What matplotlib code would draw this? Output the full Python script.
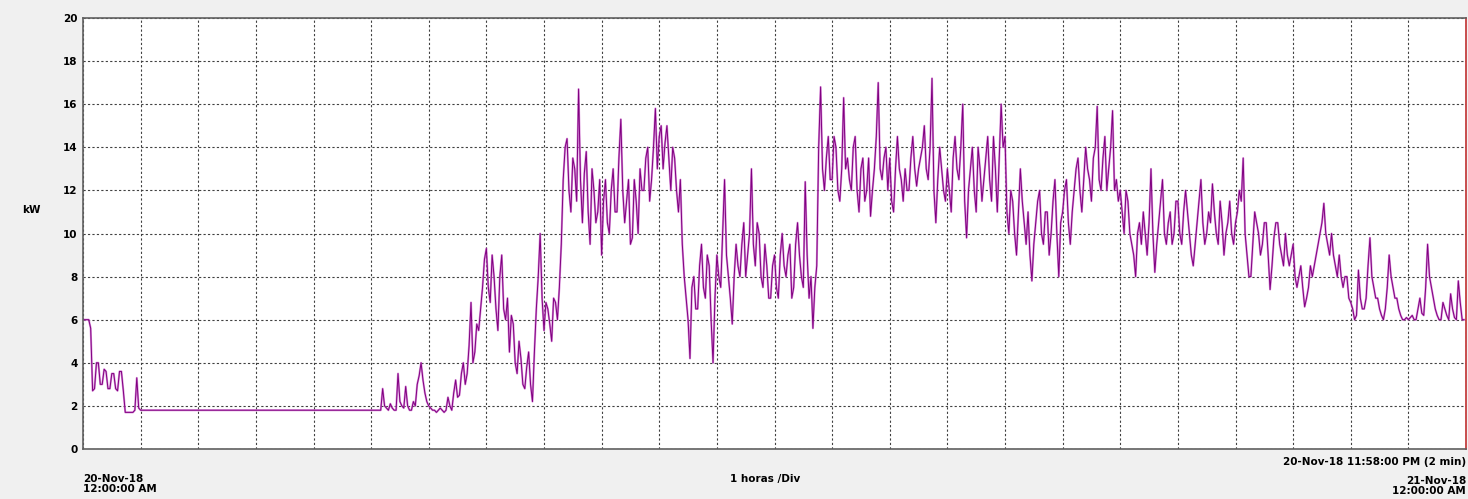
import numpy as np
import matplotlib
matplotlib.use('Agg')
import matplotlib.pyplot as plt

# kW readings every 2 minutes, one row per hour (20-Nov-18 00:00 -> 23:58)
h00 = [6.0, 6.0, 6.0, 6.0, 5.6, 2.7, 2.8, 4.0, 4.0, 3.0,
       3.0, 3.7, 3.6, 2.8, 2.8, 3.5, 3.5, 2.8, 2.7, 3.6,
       3.6, 2.7, 1.7, 1.7, 1.7, 1.7, 1.7, 1.8, 3.3, 1.9]
h01 = [1.8] * 30
h02 = [1.8] * 30
h03 = [1.8] * 30
h04 = [1.8] * 30
h05 = [1.8, 1.8, 1.8, 1.8, 1.8, 1.8, 2.8, 2.0, 1.9, 1.8,
       2.1, 1.9, 1.8, 1.8, 3.5, 2.2, 2.0, 1.9, 2.9, 2.0,
       1.8, 1.8, 2.2, 2.0, 3.0, 3.4, 4.0, 3.2, 2.6, 2.2]
h06 = [2.0, 1.9, 1.8, 1.8, 1.7, 1.8, 1.9, 1.8, 1.7, 1.8,
       2.4, 2.0, 1.8, 2.6, 3.2, 2.4, 2.5, 3.5, 4.0, 3.0,
       3.5, 4.8, 6.8, 4.0, 4.5, 5.8, 5.5, 6.5, 7.5, 8.8]
h07 = [9.3, 7.5, 6.8, 9.0, 8.0, 6.5, 5.5, 8.0, 9.0, 6.5,
       6.0, 7.0, 4.5, 6.2, 5.8, 4.0, 3.5, 5.0, 4.2, 3.0,
       2.8, 3.8, 4.5, 3.0, 2.2, 4.5, 6.5, 8.0, 10.0, 7.0]
h08 = [5.5, 6.8, 6.5, 5.8, 5.0, 7.0, 6.8, 6.0, 7.5, 9.5,
       12.5, 14.0, 14.4, 12.0, 11.0, 13.5, 13.0, 11.5, 16.7, 12.5,
       10.5, 12.8, 13.8, 11.0, 9.5, 13.0, 12.0, 10.5, 11.0, 12.5]
h09 = [9.0, 11.5, 12.5, 10.5, 10.0, 12.0, 13.0, 11.0, 11.0, 13.5,
       15.3, 12.0, 10.5, 11.5, 12.5, 9.5, 9.8, 12.5, 11.5, 10.0,
       13.0, 12.0, 12.0, 13.5, 14.0, 11.5, 12.5, 14.0, 15.8, 13.0]
h10 = [14.5, 15.0, 13.0, 14.2, 15.0, 13.5, 12.0, 14.0, 13.5, 12.0,
       11.0, 12.5, 9.5, 8.0, 7.0, 6.0, 4.2, 7.5, 8.0, 6.5,
       6.5, 8.5, 9.5, 7.5, 7.0, 9.0, 8.5, 6.0, 4.0, 7.0]
h11 = [9.0, 8.0, 7.5, 10.0, 12.5, 9.0, 8.0, 7.0, 5.8, 8.0,
       9.5, 8.5, 8.0, 9.5, 10.5, 8.0, 9.0, 10.0, 13.0, 9.5,
       8.5, 10.5, 10.0, 8.0, 7.5, 9.5, 8.5, 7.0, 7.0, 8.5]
h12 = [9.0, 7.5, 7.0, 9.0, 10.0, 8.5, 8.0, 9.0, 9.5, 7.0,
       7.5, 9.5, 10.5, 9.0, 8.0, 7.5, 12.4, 9.0, 7.0, 8.0,
       5.6, 7.5, 8.5, 14.0, 16.8, 13.0, 12.0, 13.5, 14.5, 12.5]
h13 = [12.5, 14.5, 14.0, 12.0, 11.5, 13.0, 16.3, 13.0, 13.5, 12.5,
       12.0, 14.0, 14.5, 12.0, 11.0, 13.0, 13.5, 11.5, 12.0, 13.5,
       10.8, 12.0, 13.0, 14.5, 17.0, 13.0, 12.5, 13.5, 14.0, 12.0]
h14 = [13.5, 11.5, 11.0, 13.0, 14.5, 13.0, 12.5, 11.5, 13.0, 12.0,
       12.0, 13.5, 14.5, 13.0, 12.2, 13.0, 13.5, 14.0, 15.0, 13.0,
       12.5, 14.0, 17.2, 12.0, 10.5, 12.5, 14.0, 13.0, 12.0, 11.5]
h15 = [13.0, 12.0, 11.0, 13.5, 14.5, 13.0, 12.5, 14.0, 16.0, 11.5,
       9.8, 12.0, 13.0, 14.0, 12.0, 11.0, 14.0, 13.0, 11.5, 12.5,
       13.5, 14.5, 12.5, 11.5, 14.5, 13.0, 11.0, 13.5, 16.0, 14.0]
h16 = [14.5, 11.0, 10.0, 12.0, 11.5, 10.0, 9.0, 11.0, 13.0, 11.5,
       10.5, 9.5, 11.0, 9.0, 7.8, 9.5, 10.5, 11.5, 12.0, 10.0,
       9.5, 11.0, 11.0, 9.0, 10.0, 11.5, 12.5, 10.0, 8.0, 10.5]
h17 = [11.0, 12.0, 12.5, 10.5, 9.5, 11.0, 12.0, 13.0, 13.5, 12.0,
       11.0, 12.5, 14.0, 13.0, 12.5, 11.5, 13.5, 14.0, 15.9, 12.5,
       12.0, 13.5, 14.5, 12.0, 13.0, 14.0, 15.7, 12.0, 12.5, 11.5]
h18 = [12.0, 11.0, 10.0, 12.0, 11.5, 10.0, 9.5, 9.0, 8.0, 10.0,
       10.5, 9.5, 11.0, 10.0, 9.0, 10.5, 13.0, 10.0, 8.2, 9.5,
       10.5, 11.5, 12.5, 10.0, 9.5, 10.5, 11.0, 9.5, 10.0, 11.5]
h19 = [11.5, 10.0, 9.5, 11.0, 12.0, 11.0, 10.0, 9.0, 8.5, 9.5,
       10.5, 11.5, 12.5, 10.5, 9.5, 10.0, 11.0, 10.5, 12.3, 11.0,
       10.0, 9.5, 11.5, 10.5, 9.0, 10.0, 10.5, 11.5, 10.0, 9.5]
h20 = [10.5, 11.0, 12.0, 11.5, 13.5, 10.0, 9.0, 8.0, 8.0, 9.5,
       11.0, 10.5, 10.0, 9.0, 9.5, 10.5, 10.5, 9.0, 7.4, 8.5,
       9.8, 10.5, 10.5, 9.5, 9.0, 8.5, 10.0, 9.0, 8.5, 9.0]
h21 = [9.5, 8.0, 7.5, 8.0, 8.5, 7.5, 6.6, 7.0, 7.5, 8.5,
       8.0, 8.5, 9.0, 9.5, 10.0, 10.5, 11.4, 10.0, 9.5, 9.0,
       10.0, 9.0, 8.5, 8.0, 9.0, 8.0, 7.5, 8.0, 8.0, 7.0]
h22 = [6.8, 6.5, 6.0, 6.2, 8.3, 7.0, 6.5, 6.5, 7.0, 8.5,
       9.8, 8.0, 7.5, 7.0, 7.0, 6.5, 6.2, 6.0, 6.5, 7.5,
       9.0, 8.0, 7.5, 7.0, 7.0, 6.5, 6.2, 6.0, 6.0, 6.1]
h23 = [6.0, 6.1, 6.2, 6.0, 6.0, 6.5, 7.0, 6.3, 6.2, 7.5,
       9.5, 8.0, 7.5, 7.0, 6.5, 6.2, 6.0, 6.0, 6.8, 6.5,
       6.2, 6.0, 7.2, 6.5, 6.1, 6.0, 7.8, 6.8, 6.0, 6.0]

hours = [h00, h01, h02, h03, h04, h05, h06, h07, h08, h09, h10, h11,
         h12, h13, h14, h15, h16, h17, h18, h19, h20, h21, h22, h23]
kw = np.concatenate(hours)
t = np.arange(len(kw)) * 2 / 60.0   # hours since midnight

y_ticks = [0, 2, 4, 6, 8, 10, 12, 14, 16, 18, 20]

fig = plt.figure(figsize=(14.68, 4.99), dpi=100)
fig.patch.set_facecolor('#f0f0f0')
ax = fig.add_axes([83 / 1468, 50 / 499, 1383 / 1468, 431 / 499])
ax.set_facecolor('white')

# light halo + dark trace, like the logger's screen
ax.plot(t, kw, color='#cc66cc', linewidth=1.5, alpha=0.75)
ax.plot(t, kw, color='#800080', linewidth=0.7)

ax.set_xlim(0, 24)
ax.set_ylim(0, 20)
ax.set_xticks(np.arange(0, 25, 1))
ax.set_yticks(y_ticks)
ax.set_xticklabels([])
ax.set_yticklabels([str(v) for v in y_ticks], fontsize=7.5, fontweight='bold')
ax.tick_params(length=0, pad=4)
ax.grid(True, color='#404040', linestyle=(0, (2, 2)), linewidth=0.8)
for s in ax.spines.values():
    s.set_color('#606060')
    s.set_linewidth(1.2)
ax.spines['right'].set_color('#c03030')

fig.text(22 / 1468, 1 - 210 / 499, 'kW', fontsize=7.5, fontweight='bold',
         ha='left', va='center')
fig.text(83 / 1468, 1 - 484 / 499, '20-Nov-18\n12:00:00 AM', fontsize=7.5,
         fontweight='bold', ha='left', va='center', linespacing=1.0)
fig.text(765 / 1468, 1 - 479 / 499, '1 horas /Div', fontsize=7.5,
         fontweight='bold', ha='center', va='center')
fig.text(1466 / 1468, 1 - 462 / 499, '20-Nov-18 11:58:00 PM (2 min)',
         fontsize=7.5, fontweight='bold', ha='right', va='center')
fig.text(1466 / 1468, 1 - 486 / 499, '21-Nov-18\n12:00:00 AM', fontsize=7.5,
         fontweight='bold', ha='right', va='center', linespacing=1.0)

fig.savefig('out.png', dpi=100, facecolor=fig.get_facecolor())
